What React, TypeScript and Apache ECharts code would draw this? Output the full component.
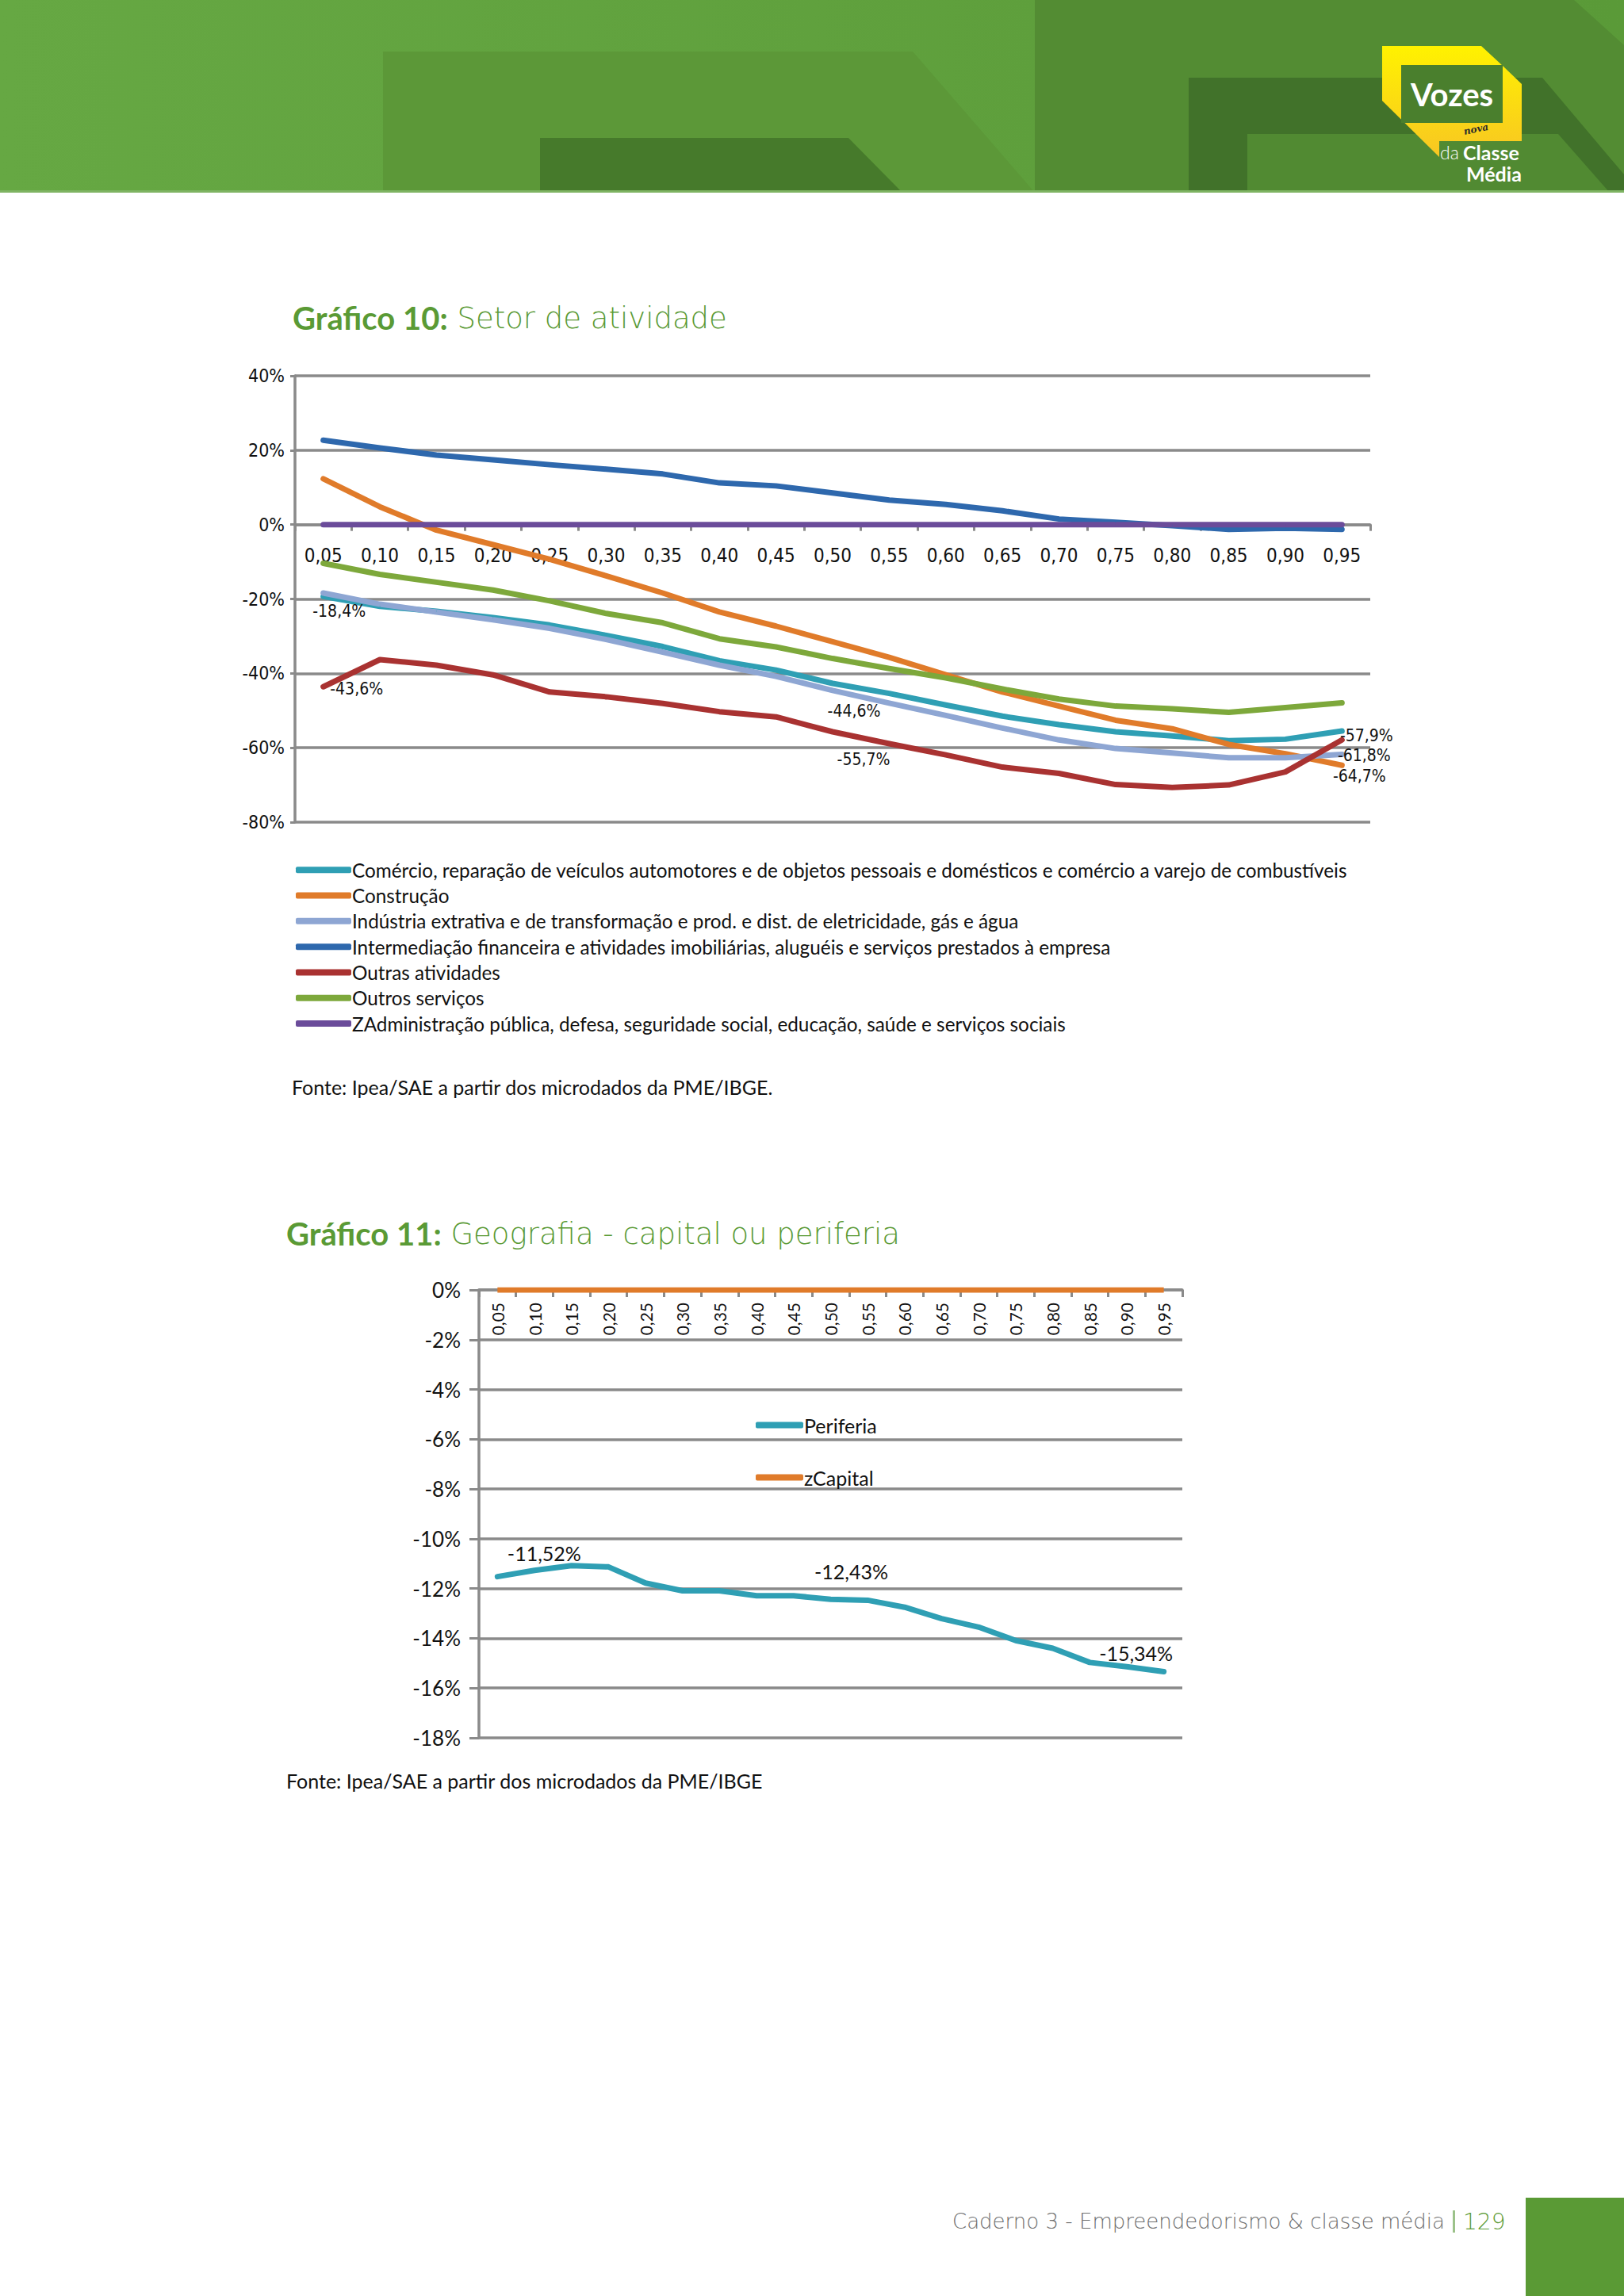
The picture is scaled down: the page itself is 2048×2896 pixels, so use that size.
import { useEffect, useRef } from "react"
import * as echarts from "echarts"

// quantis (eixo x dos dois gráficos)
const quantis = ["0,05", "0,10", "0,15", "0,20", "0,25", "0,30", "0,35", "0,40", "0,45", "0,50", "0,55", "0,60", "0,65", "0,70", "0,75", "0,80", "0,85", "0,90", "0,95"]

// Gráfico 10 - setor de atividade (%)
const setores = [
  "Comércio, reparação de veículos automotores e de objetos pessoais e domésticos e comércio a varejo de combustíveis",
  "Construção",
  "Indústria extrativa e de transformação e prod. e dist. de eletricidade, gás e água",
  "Intermediação financeira e atividades imobiliárias, aluguéis e serviços prestados à empresa",
  "Outras atividades",
  "Outros serviços",
  "ZAdministração pública, defesa, seguridade social, educação, saúde e serviços sociais",
]
const comercio = [-19.3, -22.0, -23.3, -25.0, -27.0, -29.8, -32.8, -36.6, -39.1, -42.7, -45.4, -48.5, -51.5, -53.8, -55.7, -56.8, -58.1, -57.7, -55.5]
const construcao = [12.3, 4.8, -1.5, -5.4, -9.3, -13.8, -18.4, -23.5, -27.3, -31.5, -35.7, -40.4, -45.0, -48.8, -52.6, -54.9, -59.1, -61.6, -64.7]
const industria = [-18.4, -21.4, -23.5, -25.6, -27.9, -30.9, -34.3, -37.8, -40.8, -44.6, -48.0, -51.3, -54.7, -57.9, -60.2, -61.4, -62.7, -62.7, -61.8]
const intermediacao = [22.7, 20.6, 18.7, 17.4, 16.1, 14.9, 13.6, 11.2, 10.4, 8.5, 6.6, 5.4, 3.7, 1.5, 0.6, -0.3, -1.3, -1.0, -1.3]
const outrasAtiv = [-43.6, -36.3, -37.8, -40.4, -45.0, -46.3, -48.1, -50.3, -51.7, -55.7, -58.9, -61.9, -65.2, -66.9, -69.9, -70.7, -70.0, -66.5, -57.9]
const outrosServ = [-10.4, -13.4, -15.5, -17.6, -20.5, -23.9, -26.4, -30.7, -32.9, -36.0, -38.7, -41.2, -44.2, -46.9, -48.8, -49.5, -50.5, -49.2, -47.9]
const administracao = [0, 0, 0, 0, 0, 0, 0, 0, 0, 0, 0, 0, 0, 0, 0, 0, 0, 0, 0]
const valoresSetor = [comercio, construcao, industria, intermediacao, outrasAtiv, outrosServ, administracao]
const coresSetor = ["#2f9fb4", "#e07b2a", "#8ea6d3", "#2e68ad", "#a93231", "#7da83b", "#6b4c9a"]

// Gráfico 11 - capital ou periferia (%)
const periferia = [-11.52, -11.27, -11.08, -11.13, -11.78, -12.09, -12.09, -12.29, -12.29, -12.43, -12.47, -12.75, -13.21, -13.55, -14.09, -14.4, -14.97, -15.14, -15.34]
const capital = [0, 0, 0, 0, 0, 0, 0, 0, 0, 0, 0, 0, 0, 0, 0, 0, 0, 0, 0]

// rótulos (série, índice, deslocamento em px)
const rotulos10 = [
  { s: 2, i: 0, off: [20, 23] },
  { s: 4, i: 0, off: [42, 3] },
  { s: 2, i: 9, off: [27, 26] },
  { s: 4, i: 9, off: [39, 35] },
  { s: 4, i: 18, off: [31, -5] },
  { s: 2, i: 18, off: [28, 1] },
  { s: 1, i: 18, off: [22, 14] },
]
const rotulos11 = [
  { i: 0, off: [59, -30] },
  { i: 9, off: [26, -35] },
  { i: 18, off: [-35, -24] },
]

const GRID = "#8a8a8a"
const VERDE = "#5a9a35"
const NARROW = "'Liberation Sans Narrow', 'DejaVu Sans Condensed', sans-serif"
const LATO = "Lato, 'Open Sans', sans-serif"
const LEVE = "'DejaVu Sans ExtraLight', 'DejaVu Sans', sans-serif"

// grades
const G1 = { left: 372, top: 474, width: 1356, height: 563 }
const G2 = { left: 604, top: 1627, width: 887, height: 565 }

export default function App() {
  const ref = useRef<HTMLDivElement>(null)

  useEffect(() => {
    document.body.style.margin = "0"
    if (!ref.current) return
    const chart = echarts.init(ref.current, null, { renderer: "svg" })

    const fmt1 = (p: any) => String(p.value).replace(".", ",") + "%"
    const fmt2 = (p: any) => Number(p.value).toFixed(2).replace(".", ",") + "%"

    const series10 = setores.map((nome, s) => ({
      name: nome,
      type: "line" as const,
      xAxisIndex: 0,
      yAxisIndex: 0,
      symbol: "circle",
      symbolSize: 1,
      lineStyle: { width: 7, color: coresSetor[s], cap: "round" as const, join: "round" as const },
      itemStyle: { color: coresSetor[s] },
      data: valoresSetor[s].map((v, i) => {
        const r = rotulos10.find((l) => l.s === s && l.i === i)
        return r
          ? { value: v, label: { show: true, position: "inside", offset: r.off, formatter: fmt1, fontFamily: NARROW, fontSize: 21, color: "#111" } }
          : v
      }),
    }))

    const series11 = [
      {
        name: "Periferia",
        type: "line" as const,
        xAxisIndex: 1,
        yAxisIndex: 1,
        symbol: "circle",
        symbolSize: 1,
        lineStyle: { width: 7, color: "#2f9fb4", cap: "round" as const, join: "round" as const },
        itemStyle: { color: "#2f9fb4" },
        data: periferia.map((v, i) => {
          const r = rotulos11.find((l) => l.i === i)
          return r
            ? { value: v, label: { show: true, position: "inside", offset: r.off, formatter: fmt2, fontFamily: LATO, fontSize: 25, color: "#111" } }
            : v
        }),
      },
      {
        name: "zCapital",
        type: "line" as const,
        xAxisIndex: 1,
        yAxisIndex: 1,
        symbol: "none",
        lineStyle: { width: 7, color: "#e07b2a" },
        itemStyle: { color: "#e07b2a" },
        data: capital,
      },
    ]

    const txt = (x: number, y: number, text: string, style: any) => ({
      type: "text",
      x,
      y,
      style: { text, align: "left", verticalAlign: "middle", fontFamily: LATO, ...style },
    })
    const poly = (points: number[][], fill: any) => ({ type: "polygon", shape: { points }, style: { fill } })
    const titulo = (x: number, y: number, a: string, b: string) =>
      txt(x, y, `{b|${a}}{l| ${b}}`, {
        rich: {
          b: { fontFamily: LATO, fontWeight: "bold", fontSize: 40, fill: VERDE, color: VERDE },
          l: { fontFamily: LEVE, fontWeight: 200, fontSize: 37, fill: VERDE, color: VERDE },
        },
      })

    // posição do eixo x na linha do zero (grade 1)
    const zero1 = (G1.height * 40) / 120

    const option: any = {
      animation: false,
      backgroundColor: "#ffffff",
      textStyle: { fontFamily: LATO },
      graphic: [
        // cabeçalho
        {
          type: "rect",
          shape: { x: 0, y: 0, width: 2048, height: 243 },
          style: { fill: new echarts.graphic.LinearGradient(0, 0, 1, 0, [{ offset: 0, color: "#66a843" }, { offset: 1, color: "#5a9a38" }]) },
        },
        poly([[483, 65], [1151, 65], [1305, 243], [483, 243]], "#5c9838"),
        poly([[681, 174], [1070, 174], [1138, 243], [681, 243]], "#467a2b"),
        poly([[1305, 0], [1985, 0], [2048, 57], [2048, 243], [1305, 243]], "#538c33"),
        poly([[1499, 98], [1945, 98], [2048, 220], [2048, 243], [1499, 243]], "#41722a"),
        poly([[1573, 169], [1965, 169], [2030, 243], [1573, 243]], "#518a32"),
        { type: "rect", shape: { x: 0, y: 240, width: 2048, height: 3 }, style: { fill: "#7fb463" } },
        // logotipo
        poly(
          [[1743, 58], [1868, 58], [1895, 83], [1919, 106], [1919, 178], [1815, 178], [1815, 198], [1743, 127]],
          new echarts.graphic.LinearGradient(0, 0, 0, 1, [{ offset: 0, color: "#fff200" }, { offset: 1, color: "#f8c623" }])
        ),
        { type: "rect", shape: { x: 1767, y: 82, width: 128, height: 73 }, style: { fill: "#4a7f2d" } },
        {
          type: "text",
          x: 1831,
          y: 119,
          style: { text: "Vozes", align: "center", verticalAlign: "middle", fontFamily: LATO, fontWeight: "bold", fontSize: 40, fill: "#ffffff" },
        },
        txt(1816, 192, "da", { fontSize: 23, fontWeight: 300, fill: "#ffffff" }),
        txt(1845, 192, "Classe", { fontSize: 25, fontWeight: "bold", fill: "#ffffff" }),
        txt(1849, 219, "Média", { fontSize: 25, fontWeight: "bold", fill: "#ffffff" }),
        {
          type: "text",
          x: 1846,
          y: 166,
          rotation: 0.2,
          style: { text: "nova", align: "left", verticalAlign: "middle", fontFamily: "'DejaVu Serif', serif", fontStyle: "italic", fontWeight: "bold", fontSize: 12, fill: "#2b2b2b" },
        },
        // títulos
        titulo(369, 401, "Gráfico 10:", "Setor de atividade"),
        titulo(361, 1556, "Gráfico 11:", "Geografia - capital ou periferia"),
        // fontes
        txt(368, 1371, "Fonte: Ipea/SAE a partir dos microdados da PME/IBGE.", { fontSize: 25, fill: "#111" }),
        txt(361, 2246, "Fonte: Ipea/SAE a partir dos microdados da PME/IBGE", { fontSize: 25, fill: "#111" }),
        // rodapé
        {
          type: "text",
          x: 1822,
          y: 2802,
          style: { text: "Caderno 3 - Empreendedorismo & classe média", align: "right", verticalAlign: "middle", fontFamily: LEVE, fontWeight: 200, fontSize: 26, fill: "#6e6e6e" },
        },
        { type: "rect", shape: { x: 1832, y: 2788, width: 3, height: 28 }, style: { fill: "#9cc28a" } },
        txt(1845, 2802, "129", { fontFamily: LEVE, fontSize: 28, fontWeight: 200, fill: VERDE }),
        { type: "rect", shape: { x: 1924, y: 2772, width: 124, height: 124 }, style: { fill: VERDE } },
      ],
      legend: [
        {
          data: setores,
          orient: "vertical",
          left: 368,
          top: 1080,
          icon: "roundRect",
          itemWidth: 70,
          itemHeight: 8,
          itemGap: 7.8,
          selectedMode: false,
          textStyle: { fontFamily: LATO, fontSize: 24.3, lineHeight: 24.5, color: "#111", padding: [0, 0, 0, -4] },
        },
        {
          data: ["Periferia", "zCapital"],
          orient: "vertical",
          left: 948,
          top: 1780,
          icon: "roundRect",
          itemWidth: 60,
          itemHeight: 8,
          itemGap: 41,
          selectedMode: false,
          textStyle: { fontFamily: LATO, fontSize: 25, lineHeight: 25, color: "#111", padding: [0, 0, 0, -4] },
        },
      ],
      grid: [G1, G2],
      xAxis: [
        {
          type: "category",
          gridIndex: 0,
          data: quantis,
          position: "top",
          offset: -zero1,
          z: 1,
          axisLine: { onZero: false, lineStyle: { color: GRID, width: 3.5 } },
          axisTick: { show: true, inside: true, length: 8, lineStyle: { color: GRID, width: 3 } },
          axisLabel: { interval: 0, inside: true, margin: 27, fontFamily: NARROW, fontSize: 24, color: "#111" },
        },
        {
          type: "category",
          gridIndex: 1,
          data: quantis,
          position: "top",
          z: 3,
          axisLine: { onZero: false, lineStyle: { color: GRID, width: 3.5 } },
          axisTick: { show: true, inside: true, length: 9, lineStyle: { color: GRID, width: 3 } },
          axisLabel: { interval: 0, inside: true, rotate: -90, margin: 16, fontFamily: LATO, fontSize: 21, color: "#111" },
        },
      ],
      yAxis: [
        {
          type: "value",
          gridIndex: 0,
          min: -80,
          max: 40,
          interval: 20,
          axisLine: { show: true, lineStyle: { color: GRID, width: 3.5 } },
          axisTick: { show: true, length: 6, lineStyle: { color: GRID, width: 3 } },
          splitLine: { lineStyle: { color: GRID, width: 3.5 } },
          axisLabel: { margin: 13, formatter: (v: number) => `${v}%`, fontFamily: NARROW, fontSize: 23, color: "#111" },
        },
        {
          type: "value",
          gridIndex: 1,
          min: -18,
          max: 0,
          interval: 2,
          axisLine: { show: true, lineStyle: { color: GRID, width: 3.5 } },
          axisTick: { show: true, length: 12, lineStyle: { color: GRID, width: 3 } },
          splitLine: { lineStyle: { color: GRID, width: 3.5 } },
          axisLabel: { margin: 23, formatter: (v: number) => `${v}%`, fontFamily: LATO, fontSize: 26, color: "#111" },
        },
      ],
      series: [...series10, ...series11],
    }

    chart.setOption(option)
    return () => chart.dispose()
  }, [])

  return <div ref={ref} style={{ width: 2048, height: 2896, background: "#fff" }} />
}
